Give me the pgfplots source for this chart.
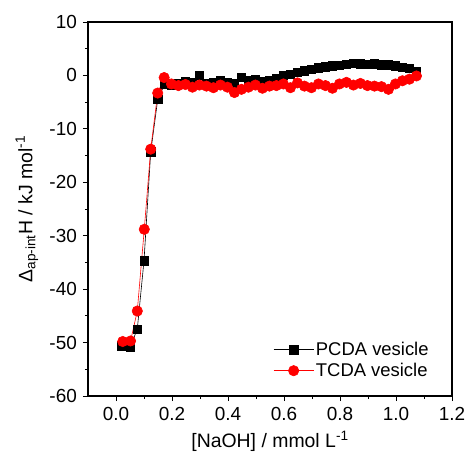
\documentclass[border=0pt]{standalone}
\usepackage{fontspec}
\setmainfont{Liberation Sans}
\usepackage{pgfplots}
\pgfplotsset{compat=1.18}
\begin{document}
\fontsize{18}{21}\selectfont
\begin{tikzpicture}
\begin{axis}[
  scale only axis, width=364bp, height=374bp,
  xmin=-0.1, xmax=1.2, ymin=-60, ymax=10,
  xtick={0,0.2,...,1.21}, ytick={-60,-50,...,10},
  minor x tick num=1, minor y tick num=1,
  xticklabel style={/pgf/number format/fixed,/pgf/number format/fixed zerofill,/pgf/number format/precision=1},
  /pgf/number format/assume math mode=true,
  tick align=outside, tick pos=left,
  major tick length=5bp, minor tick length=3bp,
  axis line style={line width=1.1pt},
  every tick/.style={line width=0.9pt, black},
  tick label style={font=\fontsize{19}{22}\selectfont},
  label style={font=\fontsize{19.5}{23}\selectfont},
  xlabel={[NaOH] / mmol L\textsuperscript{-1}},
  ylabel={Δ\textsubscript{ap-int}H / kJ mol\textsuperscript{-1}},
  xlabel style={yshift=2bp},
  ylabel style={yshift=-1bp},
  legend style={draw=none, fill=none, at={(rel axis cs:0.95,0.035)}, anchor=south east,
    font=\fontsize{18.5}{21}\selectfont, row sep=1bp},
  legend cell align=left,
  legend image code/.code={
    \draw[#1, mark repeat=2, mark phase=2] plot coordinates {(0bp,0bp) (20bp,0bp) (40bp,0bp)};},
]
\addplot[black, line width=0.6pt, mark=square*, mark size=4.2bp, mark options={solid}] coordinates {
(0.020,-50.6)(0.050,-50.9)(0.076,-47.5)(0.100,-34.7)(0.124,-14.3)(0.149,-4.5)(0.174,-1.6)
(0.198,-1.8)(0.223,-1.5)(0.248,-1.2)(0.273,-1.3)(0.298,0.0)(0.323,-1.5)(0.348,-1.4)(0.373,-1.0)
(0.398,-1.3)(0.423,-1.6)(0.448,-0.3)(0.473,-0.9)(0.498,-0.8)(0.523,-1.2)(0.548,-1.0)(0.573,-0.6)
(0.598,0.0)(0.623,0.2)(0.648,0.6)(0.673,0.9)(0.698,1.2)(0.723,1.4)(0.748,1.6)(0.773,1.8)
(0.798,1.9)(0.823,2.1)(0.848,2.3)(0.873,2.2)(0.898,2.1)(0.923,2.2)(0.948,2.0)(0.973,2.0)
(0.998,1.8)(1.023,1.5)(1.048,1.3)(1.073,0.8)};
\addlegendentry{PCDA vesicle}
\addplot[red, line width=0.6pt, mark=*, mark size=5.2bp, mark options={solid}] coordinates {
(0.024,-49.8)(0.052,-49.7)(0.076,-44.1)(0.101,-28.8)(0.124,-13.8)(0.149,-3.3)(0.172,-0.4)
(0.198,-1.6)(0.223,-1.9)(0.248,-1.7)(0.273,-2.2)(0.298,-1.8)(0.323,-2.0)(0.348,-2.3)(0.373,-1.8)
(0.398,-2.2)(0.423,-3.2)(0.448,-2.6)(0.473,-2.2)(0.498,-1.8)(0.523,-2.4)(0.548,-2.0)(0.573,-1.9)
(0.598,-1.6)(0.623,-2.3)(0.648,-1.4)(0.673,-2.0)(0.698,-2.3)(0.723,-1.6)(0.748,-1.9)(0.773,-2.4)
(0.798,-1.6)(0.823,-1.3)(0.848,-1.8)(0.873,-1.5)(0.898,-1.9)(0.923,-2.0)(0.948,-2.1)(0.973,-2.6)
(0.998,-1.6)(1.023,-1.0)(1.048,-0.7)(1.073,-0.1)};
\addlegendentry{TCDA vesicle}
\end{axis}
\pgfresetboundingbox
\useasboundingbox ([shift={(-88bp,-60bp)}]current axis.south west) rectangle ([shift={(15bp,22bp)}]current axis.north east);
\end{tikzpicture}
\end{document}
